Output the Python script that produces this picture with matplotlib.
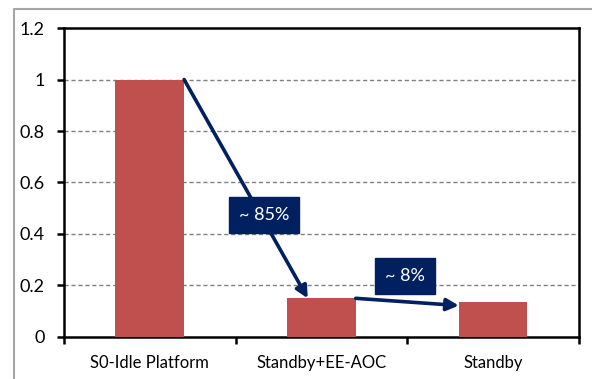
import matplotlib.pyplot as plt
from matplotlib.lines import Line2D
import numpy as np

plt.rcParams['font.family'] = ['Lato', 'DejaVu Sans']

# Relative platform power per state
categories = ['S0-Idle Platform', 'Standby+EE-AOC', 'Standby']
values = [1.0, 0.15, 0.137]
savings = ['~ 85%', '~ 8%']
yticks = [0, 0.2, 0.4, 0.6, 0.8, 1.0, 1.2]
ytick_labels = ['0', '0.2', '0.4', '0.6', '0.8', '1', '1.2']

bar_color = '#C0504D'
navy = '#002060'
bar_w = 0.4

fig = plt.figure(figsize=(5.92, 3.79), dpi=100)
ax = fig.add_axes([0.108, 0.111, 0.870, 0.815])

x = np.arange(len(categories))
ax.bar(x, values, width=bar_w, color=bar_color, zorder=3)

ax.set_xlim(-0.5, len(categories) - 0.5)
ax.set_ylim(0, 1.2)
ax.set_yticks(yticks)
ax.set_yticklabels(ytick_labels)
ax.set_xticks(x)
ax.set_xticklabels(categories)
ax.set_xticks(np.arange(-0.5, len(categories)), minor=True)

for y in yticks[1:-1]:
    ax.axhline(y, color='#808080', lw=1, ls=(0, (3, 2)), zorder=1)

for s in ax.spines.values():
    s.set_linewidth(1.8)
    s.set_color('black')

ax.tick_params(axis='y', direction='out', length=5, width=1.8, labelsize=13, pad=9)
ax.tick_params(axis='x', which='major', length=0, labelsize=12, pad=13)
ax.tick_params(axis='x', which='minor', direction='out', length=5, width=1.8)

# arrows showing the drop from one state to the next
arrow_kw = dict(arrowstyle='-|>', color=navy, lw=2.6, mutation_scale=18,
                shrinkA=0, shrinkB=0)
ax.annotate('', xy=(0.92, values[1]), xytext=(x[0] + bar_w / 2, values[0]),
            arrowprops=arrow_kw, zorder=4)
ax.annotate('', xy=(1.8, values[2] - 0.015), xytext=(x[1] + bar_w / 2, values[1]),
            arrowprops=arrow_kw, zorder=4)

box = dict(boxstyle='square,pad=0.55', facecolor=navy, edgecolor=navy)
ax.text(0.665, 0.474, savings[0], color='white', fontsize=13, ha='center',
        va='center', bbox=box, zorder=5)
ax.text(1.486, 0.237, savings[1], color='white', fontsize=13, ha='center',
        va='center', bbox=box, zorder=5)

# outer chart-area border
fig.add_artist(Line2D([14 / 592, 14 / 592, 1], [0, 1 - 9 / 379, 1 - 9 / 379],
                      transform=fig.transFigure, color='#A6A6A6', lw=1.5))

fig.savefig('out.png', dpi=100)
